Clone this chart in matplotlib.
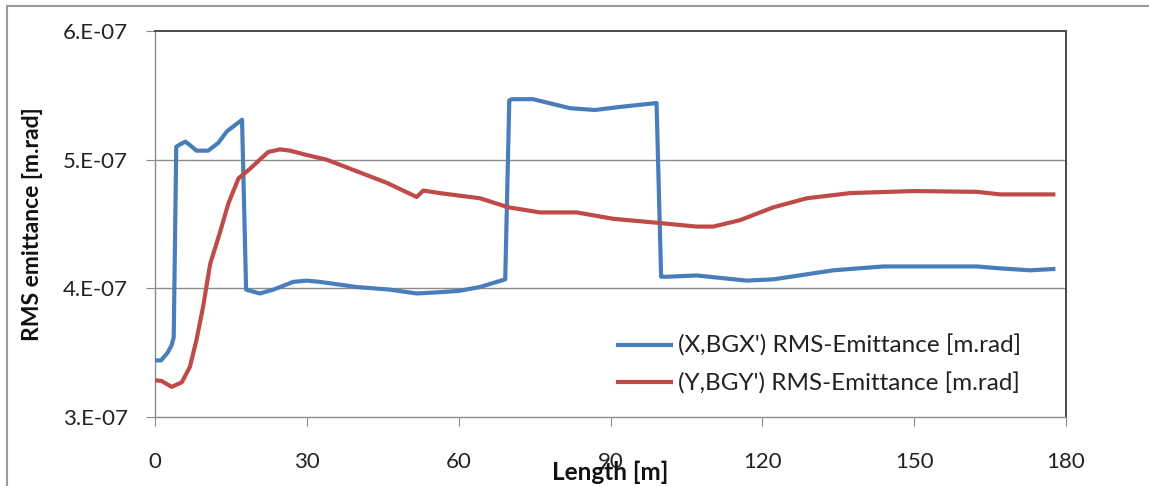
import matplotlib
matplotlib.use("Agg")
import matplotlib.pyplot as plt
import numpy as np
from matplotlib.patches import Rectangle

# ---- data (emittance values in units of 1e-7 m.rad) ----
blue_x = [0, 1.2, 2.5, 3.3, 3.7, 4.2, 5.0, 6.0, 7.0, 8.2, 10.5, 12.5, 14.2, 17.2,
          18.0, 20.7, 23.4, 27.3, 30, 32.6, 39.9, 46.4, 51.7, 56.3, 60, 64.2, 69.2,
          70.0, 70.5, 74.7, 82, 86.9, 91.9, 99.1, 100.0, 101.1, 107, 116.9, 122.2,
          134, 143.9, 162.4, 167, 172.9, 177.5]
blue_y = [3.44, 3.44, 3.50, 3.56, 3.62, 5.10, 5.12, 5.14, 5.11, 5.07, 5.07, 5.13, 5.22, 5.31,
          3.99, 3.96, 3.99, 4.05, 4.06, 4.05, 4.01, 3.99, 3.96, 3.97, 3.98, 4.01, 4.07,
          5.46, 5.47, 5.47, 5.40, 5.386, 5.41, 5.44, 4.09, 4.09, 4.10, 4.06, 4.07,
          4.14, 4.17, 4.17, 4.155, 4.14, 4.15]

red_x = [0, 1.3, 3.3, 5.3, 6.9, 8.2, 9.5, 10.9, 12.8, 14.5, 16.5, 18.8, 20.7, 22.4, 24.7,
         26.7, 30, 33.9, 39.2, 45.8, 51.7, 53, 56.3, 64.2, 69.8, 76.1, 83.3, 90.6, 99.1,
         107, 110.3, 115.6, 122.2, 128.8, 137.3, 149.8, 162.4, 167, 177.5]
red_y = [3.286, 3.28, 3.234, 3.27, 3.39, 3.60, 3.856, 4.19, 4.43, 4.66, 4.855, 4.93, 5.0,
         5.06, 5.08, 5.07, 5.036, 5.0, 4.92, 4.82, 4.71, 4.76, 4.74, 4.70, 4.63, 4.59, 4.59,
         4.54, 4.51, 4.48, 4.48, 4.53, 4.63, 4.70, 4.74, 4.756, 4.75, 4.73, 4.73]

blue_label = "(X,BGX') RMS-Emittance [m.rad]"
red_label = "(Y,BGY') RMS-Emittance [m.rad]"

x_ticks = [0, 30, 60, 90, 120, 150, 180]
y_ticks = [3e-7, 4e-7, 5e-7, 6e-7]
y_tick_labels = ["3.E-07", "4.E-07", "5.E-07", "6.E-07"]

UNIT = 1e-7

plt.rcParams['font.family'] = ['Lato', 'DejaVu Sans']

W, H = 1149, 486
fig = plt.figure(figsize=(W / 100, H / 100), dpi=100)
fig.patch.set_facecolor('white')

# outer chart border (top and left visible)
fig.patches.append(Rectangle((7 / W, -0.5), 2.0, 1 - 6 / H + 0.5, transform=fig.transFigure,
                             fill=False, edgecolor='#9a9a9a', lw=1.5, zorder=0))

left, right, top, bottom = 155, 1066, 31, 417
ax = fig.add_axes([left / W, 1 - bottom / H, (right - left) / W, (bottom - top) / H])

blue_c = '#4a7ebb'
red_c = '#be4b48'
ax.plot(blue_x, np.array(blue_y) * UNIT, color=blue_c, lw=3.0, label=blue_label,
        solid_joinstyle='round', zorder=3)
ax.plot(red_x, np.array(red_y) * UNIT, color=red_c, lw=3.0, label=red_label,
        solid_joinstyle='round', zorder=3)

ax.set_xlim(0, 180)
ax.set_ylim(3e-7, 6e-7)
ax.set_xticks(x_ticks)
ax.set_xticklabels([str(t) for t in x_ticks])
ax.set_yticks(y_ticks)
ax.set_yticklabels(y_tick_labels)

for yv in [4e-7, 5e-7]:
    ax.axhline(yv, color='#8c8c8c', lw=1.0, zorder=1)

ax.spines['top'].set_color('#4a4a4a')
ax.spines['right'].set_color('#4a4a4a')
ax.spines['top'].set_linewidth(1.4)
ax.spines['right'].set_linewidth(1.4)
ax.spines['left'].set_color('#8c8c8c')
ax.spines['bottom'].set_color('#8c8c8c')
ax.spines['left'].set_linewidth(1.0)
ax.spines['bottom'].set_linewidth(1.0)

ax.tick_params(axis='both', direction='out', length=6.5, width=0.8, color='#8c8c8c',
               labelsize=16, labelcolor='#222222')
ax.tick_params(axis='y', pad=13)
ax.tick_params(axis='x', pad=19)

ax.set_xlabel("Length [m]", fontsize=17.5, fontweight='bold', color='#111111')
ax.xaxis.set_label_coords((610 - left) / (right - left), (bottom - 472) / (bottom - top))
ax.xaxis.label.set_va('center')
ax.set_ylabel("RMS emittance [m.rad]", fontsize=16.5, fontweight='bold', color='#111111')
ax.yaxis.set_label_coords((32 - left) / (right - left), 0.5)
ax.yaxis.label.set_va('center')

leg = ax.legend(loc='upper left', bbox_to_anchor=(618 / W, 1 - 335 / H),
                bbox_transform=fig.transFigure, frameon=False, fontsize=17.5,
                handlelength=2.2, handletextpad=0.25, labelspacing=0.62,
                borderpad=0, borderaxespad=0)
for t in leg.get_texts():
    t.set_color('#222222')

fig.savefig('out.png', dpi=100, facecolor='white')
